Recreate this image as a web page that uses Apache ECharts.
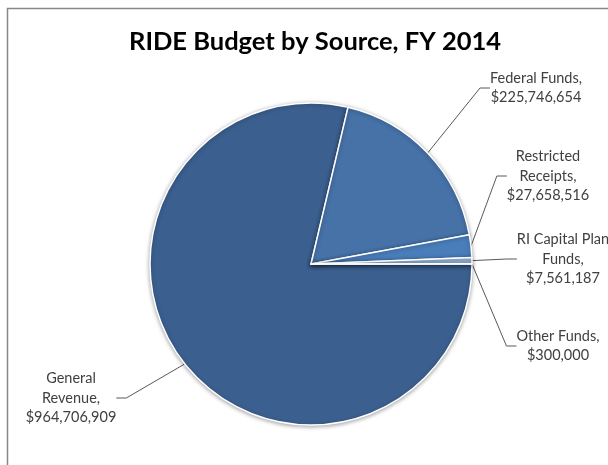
<!DOCTYPE html>
<html>
<head>
<meta charset="utf-8">
<script src="https://cdn.jsdelivr.net/npm/echarts@6/dist/echarts.min.js"></script>
<style>
html,body{margin:0;padding:0;background:#fff;}
#c{width:608px;height:465px;}
</style>
</head>
<body>
<div id="c"></div>
<script>
const categories = ["General Revenue", "Federal Funds", "Restricted Receipts", "RI Capital Plan Funds", "Other Funds"];
const labelNames = ["General\nRevenue,", "Federal Funds,", "Restricted\nReceipts,", "RI Capital Plan\nFunds,", "Other Funds,"];
const values = [964706909, 225746654, 27658516, 7561187, 300000];
const colors = ["#3b5f8f", "#4672a8", "#4a7ebb", "#95b3d7", "#2c4d74"];

// label anchor positions (layout only)
const labelPos = [
  {x: 71, y: 398},
  {x: 536, y: 88},
  {x: 548, y: 176},
  {x: 563, y: 259},
  {x: 558, y: 346}
];

const fmt = v => '$' + v.toLocaleString('en-US');

const chart = echarts.init(document.getElementById('c'));
chart.setOption({
  backgroundColor: '#fff',
  animation: false,
  title: {
    text: 'RIDE Budget by Source, FY 2014',
    left: 124,
    top: 24,
    textStyle: {fontFamily: 'Lato', fontWeight: 'bold', fontSize: 25.5, color: '#000'}
  },
  graphic: [{
    type: 'rect', silent: true,
    shape: {x: 7.5, y: 8.5, width: 800, height: 800},
    style: {fill: 'none', stroke: '#878787', lineWidth: 1.5}
  }],
  series: [{
    type: 'pie',
    center: [311, 264],
    radius: 161,
    startAngle: 0,
    clockwise: true,
    minAngle: 0,
    avoidLabelOverlap: false,
    data: categories.map((c, i) => ({
      name: c,
      value: values[i],
      itemStyle: {color: colors[i]},
      label: {formatter: labelNames[i] + '\n' + fmt(values[i])}
    })),
    itemStyle: {borderColor: '#fff', borderWidth: 1.5, shadowBlur: 4, shadowColor: 'rgba(0,0,0,0.35)', shadowOffsetY: 1},
    label: {
      show: true,
      position: 'outside',
      fontFamily: 'Lato',
      fontSize: 14.5,
      lineHeight: 19.5,
      color: '#404040',
      align: 'center'
    },
    labelLine: {show: true, length: 10, length2: 10, lineStyle: {color: '#595959', width: 1}},
    labelLayout: function (p) {
      const pos = labelPos[p.dataIndex];
      return {x: pos.x, y: pos.y, align: 'center', verticalAlign: 'middle'};
    },
    emphasis: {disabled: true}
  }]
});
</script>
</body>
</html>
